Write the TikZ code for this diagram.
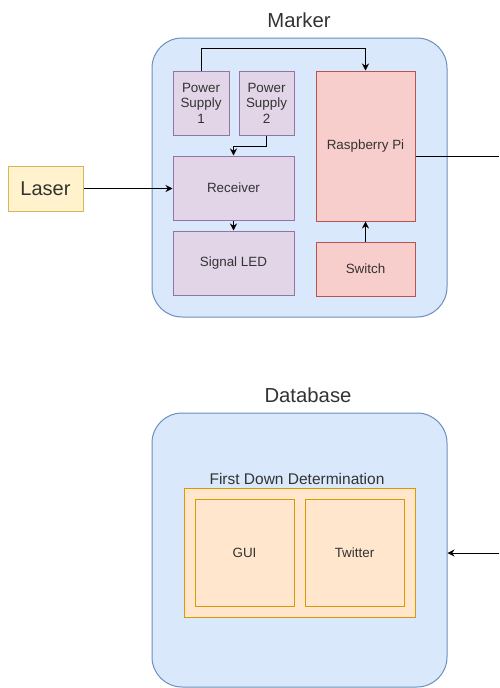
\documentclass[tikz,border=0pt]{standalone}
\usepackage{fontspec}
\setmainfont{Liberation Sans}
\usetikzlibrary{arrows.meta}
\definecolor{blueF}{HTML}{DAE8FC}\definecolor{blueD}{HTML}{6C8EBF}
\definecolor{purF}{HTML}{E1D5E7}\definecolor{purD}{HTML}{9673A6}
\definecolor{redF}{HTML}{F8CECC}\definecolor{redD}{HTML}{B85450}
\definecolor{yelF}{HTML}{FFF2CC}\definecolor{yelD}{HTML}{D6B656}
\definecolor{orF}{HTML}{FFE6CC}\definecolor{orD}{HTML}{D79B00}
\definecolor{txt}{HTML}{333333}
\tikzset{
  base/.style={line width=1pt, inner sep=1pt, align=center, text=txt, font=\fontsize{13.4}{15.5}\selectfont},
  outer/.style={base, fill=blueF, draw=blueD, rounded corners=30pt},
  purbox/.style={base, fill=purF, draw=purD},
  redbox/.style={base, fill=redF, draw=redD},
  yelbox/.style={base, fill=yelF, draw=yelD, font=\fontsize{20}{24}\selectfont},
  orbox/.style={base, fill=orF, draw=orD},
  title/.style={text=txt, font=\fontsize{20.3}{24}\selectfont, inner sep=0pt},
  arr/.style={line width=1pt, -{Stealth[length=7pt,width=7pt]}},
  ln/.style={line width=1pt}
}
\begin{document}
\begin{tikzpicture}[x=1pt,y=-1pt]
\useasboundingbox (0,0) rectangle (499,688);
% Marker
\node[outer, minimum width=295, minimum height=279] (marker) at (299.5,177.5) {};
\node[title] (markerlbl) at (299,20) {Marker};
\node[purbox, minimum width=56, minimum height=64] (ps1) at (201,103) {Power\\Supply\\1};
\node[purbox, minimum width=55, minimum height=64] (ps2) at (266.5,103) {Power\\Supply\\2};
\node[purbox, minimum width=121, minimum height=64] (rec) at (233.5,188) {Receiver};
\node[purbox, minimum width=121, minimum height=64] (led) at (233.5,263) {Signal LED};
\node[redbox, minimum width=99, minimum height=150] (pi) at (365.5,146) {Raspberry Pi};
\node[redbox, minimum width=99, minimum height=54] (sw) at (365.5,269) {Switch};
\node[yelbox, minimum width=75, minimum height=45] (laser) at (45.5,188.5) {Laser};
\coordinate (piout) at (499,156);
\draw[arr] (ps1.north) -- ++(0,-22) -| (pi.north);
\draw[arr] (ps2.south) -- ++(0,11) -| (rec.north);
\draw[arr] (rec.south) -- (led.north);
\draw[arr] (sw.north) -- (pi.south);
\draw[arr] (laser.east) -- (rec.west |- laser.east);
\draw[ln] (pi.east |- piout) -- (piout);
% Database
\node[outer, minimum width=295, minimum height=274] (db) at (299.5,550) {};
\node[title] (dblbl) at (308,395) {Database};
\node[orbox, minimum width=231, minimum height=129] (fdd) at (299.5,552.5) {};
\node[text=txt, font=\fontsize{15.5}{18}\selectfont, inner sep=0pt] (fddlbl) at (297,479) {First Down Determination};
\node[orbox, minimum width=99, minimum height=107] (gui) at (244.5,552.5) {GUI};
\node[orbox, minimum width=99, minimum height=107] (tw) at (354.5,552.5) {Twitter};
\coordinate (dbin) at (499,553);
\draw[arr] (dbin) -- (db.east |- dbin);
\end{tikzpicture}
\end{document}
